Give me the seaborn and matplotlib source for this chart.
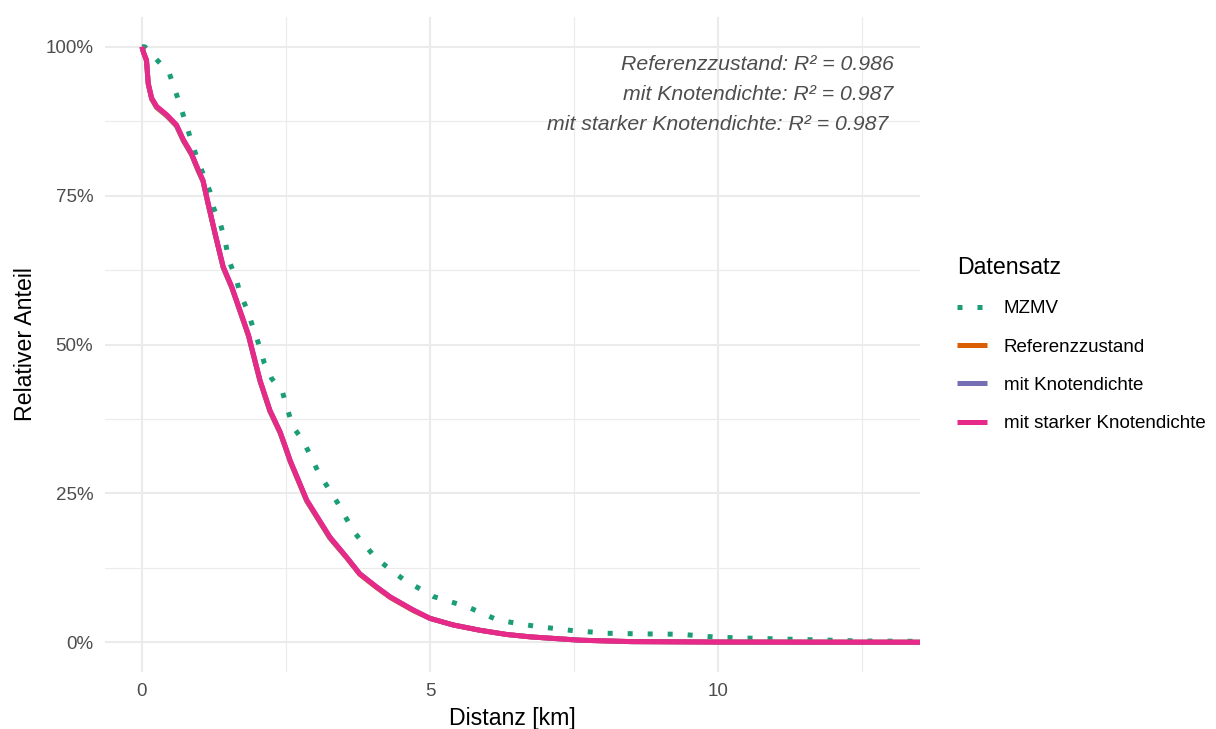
import matplotlib
matplotlib.use("Agg")
import matplotlib.pyplot as plt
import matplotlib.ticker as mticker
from matplotlib.lines import Line2D
import pandas as pd
import seaborn as sns

# Empirical share of trips longer than a given distance
dist_mzmv = [0.0, 0.05, 0.26, 0.47, 0.57, 0.67, 0.76, 0.85, 0.95, 1.06, 1.18, 1.25,
             1.37, 1.45, 1.51, 1.63, 1.71, 1.83, 1.93, 2.03, 2.12, 2.25, 2.44, 2.52,
             2.62, 2.80, 3.07, 3.39, 3.68, 4.06, 4.53, 5.05, 5.66, 6.18, 6.81, 7.43,
             8.07, 8.70, 9.34, 9.98, 10.6, 11.25, 11.9, 12.5, 13.5]
share_mzmv = [1.0, 1.0, 0.978, 0.957, 0.929, 0.900, 0.872, 0.844, 0.815, 0.787, 0.757,
              0.728, 0.700, 0.671, 0.641, 0.612, 0.584, 0.558, 0.528, 0.500, 0.470,
              0.443, 0.420, 0.393, 0.362, 0.338, 0.284, 0.235, 0.185, 0.141, 0.106,
              0.077, 0.059, 0.037, 0.027, 0.020, 0.015, 0.014, 0.0134, 0.0084,
              0.0067, 0.005, 0.0035, 0.002, 0.0015]

dist_model = [0.0, 0.03, 0.08, 0.11, 0.17, 0.255, 0.43, 0.60, 0.72, 0.86, 0.98, 1.06,
              1.15, 1.27, 1.41, 1.56, 1.70, 1.85, 1.96, 2.05, 2.22, 2.40, 2.51, 2.57,
              2.86, 3.26, 3.55, 3.78, 4.07, 4.31, 4.71, 5.0, 5.40, 5.87, 6.33, 6.74,
              7.6, 8.5, 10.0, 12.0, 13.5]
share_referenz = [1.0, 0.99, 0.976, 0.937, 0.912, 0.898, 0.884, 0.867, 0.842, 0.819,
                  0.791, 0.774, 0.735, 0.685, 0.629, 0.595, 0.556, 0.514, 0.472, 0.438,
                  0.388, 0.351, 0.321, 0.304, 0.237, 0.175, 0.142, 0.114, 0.092,
                  0.075, 0.053, 0.040, 0.029, 0.020, 0.013, 0.009, 0.0034, 0.001,
                  0.0003, 0.0001, 0.0]
share_knoten = [1.0, 0.99, 0.977, 0.938, 0.913, 0.899, 0.885, 0.868, 0.843, 0.820,
                0.792, 0.775, 0.736, 0.686, 0.630, 0.596, 0.557, 0.515, 0.473, 0.439,
                0.389, 0.352, 0.322, 0.305, 0.238, 0.176, 0.143, 0.115, 0.093, 0.076,
                0.054, 0.040, 0.029, 0.020, 0.013, 0.009, 0.0034, 0.001, 0.0003,
                0.0001, 0.0]
share_stark = [1.0, 0.99, 0.978, 0.939, 0.914, 0.900, 0.886, 0.869, 0.844, 0.821,
               0.793, 0.776, 0.737, 0.687, 0.631, 0.597, 0.558, 0.516, 0.474, 0.440,
               0.390, 0.353, 0.323, 0.306, 0.239, 0.177, 0.143, 0.115, 0.093, 0.076,
               0.054, 0.040, 0.029, 0.020, 0.013, 0.009, 0.0034, 0.001, 0.0003,
               0.0001, 0.0]

series_names = ["MZMV", "Referenzzustand", "mit Knotendichte", "mit starker Knotendichte"]
series_colors = ["#1B9E77", "#D95F02", "#7570B3", "#E7298A"]
r2_labels = ["Referenzzustand: R² = 0.986",
             "mit Knotendichte: R² = 0.987",
             "mit starker Knotendichte: R² = 0.987"]

sns.set_theme(style="white")
plt.rcParams["font.family"] = ["Liberation Sans", "DejaVu Sans"]

fig = plt.figure(figsize=(12.16, 7.29), dpi=100)
ax = fig.add_axes([105 / 1216, 57 / 729, 815 / 1216, 655 / 729])

lw = 3.6
data = [(dist_mzmv, share_mzmv), (dist_model, share_referenz),
        (dist_model, share_knoten), (dist_model, share_stark)]
for (x, y), name, col in zip(data, series_names, series_colors):
    df = pd.DataFrame({"Distanz": x, "Anteil": y})
    sns.lineplot(data=df, x="Distanz", y="Anteil", ax=ax, color=col,
                 linewidth=lw, estimator=None, sort=False, legend=False)
    ln = ax.lines[-1]
    ln.set_solid_capstyle("butt")
    ln.set_solid_joinstyle("round")
    if name == "MZMV":
        ln.set_dashes((1, 3))
        ln.set_dash_capstyle("butt")
        ln.set_zorder(3)
    else:
        ln.set_zorder(4)

ax.set_xlim(-0.64, 13.5)
ax.set_ylim(-0.05, 1.05)
ax.xaxis.set_major_locator(mticker.FixedLocator([0, 5, 10]))
ax.xaxis.set_minor_locator(mticker.FixedLocator([2.5, 7.5, 12.5]))
ax.yaxis.set_major_locator(mticker.FixedLocator([0, 0.25, 0.5, 0.75, 1.0]))
ax.yaxis.set_minor_locator(mticker.FixedLocator([0.125, 0.375, 0.625, 0.875]))
ax.yaxis.set_major_formatter(mticker.FuncFormatter(lambda v, p: f"{v * 100:.0f}%"))
ax.grid(which="major", color="#EBEBEB", linewidth=1.5)
ax.grid(which="minor", color="#EBEBEB", linewidth=0.8)
ax.set_axisbelow(True)
for s in ax.spines.values():
    s.set_visible(False)
ax.tick_params(which="both", length=0, labelsize=13.5, labelcolor="#4D4D4D")
ax.tick_params(axis="y", pad=8.5)
ax.tick_params(axis="x", pad=8)

ax.set_xlabel("Distanz [km]", fontsize=16.7, color="black", labelpad=5)
ax.set_ylabel("Relativer Anteil", fontsize=16.7, color="black", labelpad=6)

text_x = [13.05, 13.03, 12.95]
text_y = [0.970, 0.920, 0.870]
for tx, ty, lab in zip(text_x, text_y, r2_labels):
    ax.text(tx, ty, lab, ha="right", va="center", fontsize=15.3, style="italic",
            color="#4D4D4D")

handles = []
for name, col in zip(series_names, series_colors):
    if name == "MZMV":
        h = Line2D([], [], color=col, linewidth=lw, linestyle=(0, (1, 3)),
                   dash_capstyle="butt")
    else:
        h = Line2D([], [], color=col, linewidth=lw, solid_capstyle="butt")
    handles.append(h)
leg = fig.legend(handles, series_names, title="Datensatz", loc="upper left",
                 bbox_to_anchor=(940 / 1216, 1 - 239 / 729), frameon=False,
                 fontsize=13.5, title_fontsize=16.7, handlelength=1.6,
                 handletextpad=0.9, labelspacing=1.13, alignment="left")
leg.get_title().set_color("black")
for t in leg.get_texts():
    t.set_color("black")

fig.savefig("out.png", dpi=100)
